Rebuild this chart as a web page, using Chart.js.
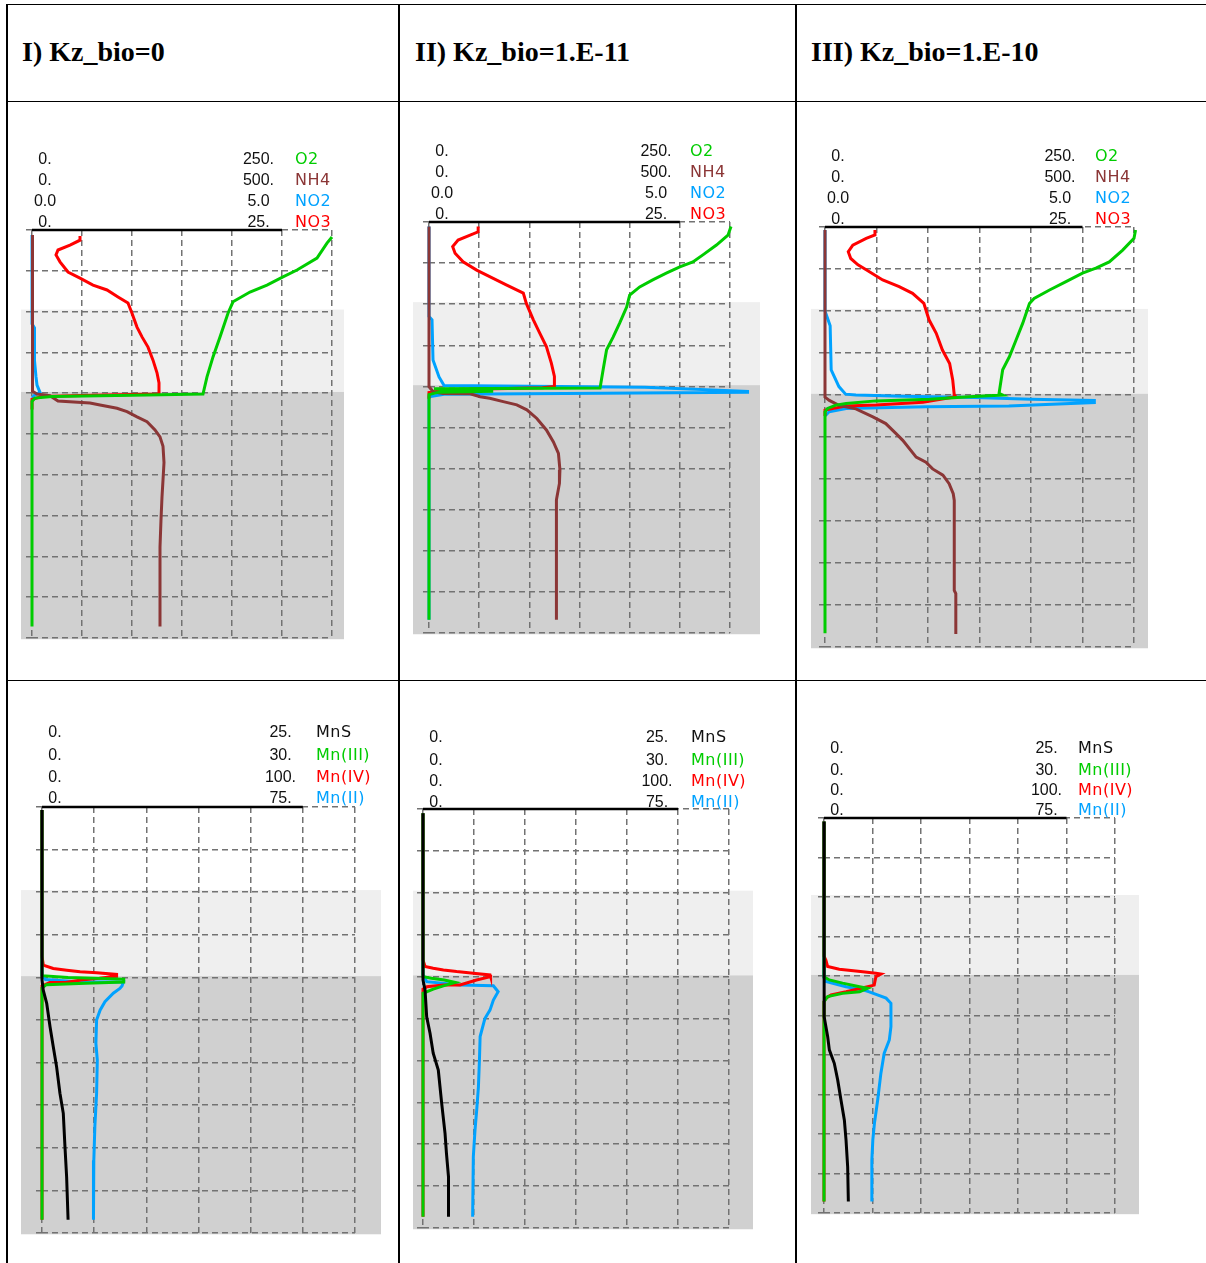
<!DOCTYPE html>
<html>
<head>
<meta charset="utf-8">
<script src="https://cdn.jsdelivr.net/npm/chart.js@4.4.1/dist/chart.umd.min.js"></script>
<style>
  body { margin: 0; background: #fff; }
  #page { position: relative; width: 1206px; height: 1263px; overflow: hidden; }
  .rule { position: absolute; background: #000; z-index: 5; }
  .title { position: absolute; font: bold 28px "Liberation Serif", serif; color: #000; white-space: nowrap; line-height: 32px; }
  .lab { position: absolute; font: 16px "Liberation Sans", Arial, sans-serif; white-space: nowrap; line-height: 20px; height: 20px; }
  .lab.name { font-family: "DejaVu Sans", sans-serif; letter-spacing: 0.5px; }
  canvas { position: absolute; }
</style>
</head>
<body>
<div id="page"></div>
<script>
// ---- data ----
const titles = ['I) Kz_bio=0', 'II) Kz_bio=1.E-11', 'III) Kz_bio=1.E-10']

const nSpecies = ['O2', 'NH4', 'NO2', 'NO3']
const nMinLabels = ['0.', '0.', '0.0', '0.']
const nMaxLabels = ['250.', '500.', '5.0', '25.']
const nMax = [250, 500, 5, 25]

const mnSpecies = ['MnS', 'Mn(III)', 'Mn(IV)', 'Mn(II)']
const mnMinLabels = ['0.', '0.', '0.', '0.']
const mnMaxLabels = ['25.', '30.', '100.', '75.']
const mnMax = [25, 30, 100, 75]

// depth in grid units (0 = top, 10 = bottom)
const depthMax = 10
const bblZone = [1.95, 3.97]
const sedZone = [3.97, 10.03]

// profiles: [value, depth]
const o2_I = [[300,0.17],[295,0.32],[285,0.69],[265,0.98],[251,1.15],[235,1.35],[218,1.52],[201,1.76],[196,2.04],[188,2.62],[181,3.11],[175,3.6],[171,4.02],[100,4.05],[20,4.08],[3,4.12],[0,4.2],[0,9.72]]
const nh4_I = [[1,0.12],[1,3.95],[10,4.02],[36,4.06],[52,4.19],[116,4.24],[136,4.29],[170,4.37],[190,4.45],[210,4.58],[230,4.7],[246,4.9],[256,5.07],[262,5.3],[264,5.7],[262,6.13],[260,6.54],[258,7.1],[256,7.77],[256,9.72]]
const no2_I = [[0,0.12],[0,2.3],[0.05,2.4],[0.05,3.2],[0.08,3.6],[0.1,3.8],[0.16,3.98],[0.05,4.05],[0,4.12]]
const no3_I = [[4.8,0.15],[4.8,0.25],[3.8,0.37],[2.6,0.49],[2.4,0.61],[2.8,0.78],[3.6,1.03],[4.8,1.18],[6.1,1.35],[7.5,1.47],[8.6,1.64],[9.6,1.79],[10,2.04],[10.5,2.38],[11,2.62],[11.6,2.87],[12.1,3.19],[12.5,3.5],[12.7,3.75],[12.7,4.02],[6,4.05],[1,4.08],[0,4.15],[0,4.4]]

const o2_II = [[301,0.11],[298,0.32],[286.5,0.56],[273,0.8],[263,0.97],[250,1.09],[237,1.24],[223,1.41],[210,1.58],[200,1.78],[197,2.07],[190,2.46],[183.5,2.8],[177,3.11],[173.5,3.6],[170.5,4.04],[5,4.06],[30,4.1],[64,4.12],[10,4.14],[0,4.2],[0,9.68]]
const nh4_II = [[0,0.11],[0,4.01],[8.6,4.13],[28,4.17],[82,4.18],[102,4.25],[121,4.29],[148,4.37],[175,4.45],[195,4.57],[215,4.78],[234,5.06],[248,5.35],[258,5.63],[261,6.03],[260,6.36],[254,6.76],[254,9.68]]
const no2_II = [[0,0.11],[0,2.3],[0.06,2.38],[0.08,3.36],[0.2,3.77],[0.3,3.98],[4.3,4.02],[6.35,4.12],[6.35,4.14],[2.7,4.17],[0.3,4.19],[0,4.25],[0,9.68]]
const no3_II = [[4.9,0.11],[4.9,0.24],[4.1,0.32],[2.9,0.44],[2.36,0.6],[2.6,0.76],[3.4,0.97],[4.75,1.17],[6.4,1.37],[7.7,1.53],[9.4,1.73],[9.7,1.98],[10.4,2.38],[11.05,2.71],[11.7,3.03],[12.2,3.44],[12.5,3.76],[12.5,4.0],[11.3,4.03],[2,4.08],[0,4.15],[0,4.3]]

const o2_III = [[301.5,0.07],[300,0.27],[289,0.55],[276,0.83],[263,0.98],[250,1.1],[234,1.3],[218,1.5],[203,1.7],[198.5,1.82],[192,2.29],[185.5,2.69],[179,3.09],[172.5,3.4],[169,3.96],[172.5,4.0],[140,4.04],[101.5,4.1],[49.5,4.14],[20.5,4.2],[10.5,4.24],[2.5,4.32],[0,4.4],[0,9.67]]
const nh4_III = [[0,0.07],[0,4.05],[8.4,4.13],[28,4.25],[60,4.33],[93,4.52],[118,4.68],[138,4.92],[151,5.08],[177,5.48],[196,5.6],[209,5.76],[229,5.91],[241,6.11],[249,6.35],[251,6.51],[251,8.65],[254,8.73],[254,9.69]]
const no2_III = [[0,0.07],[0,2.0],[0.1,2.35],[0.12,3.4],[0.27,3.8],[0.4,3.98],[0.6,4.0],[1.5,4.03],[2.9,4.06],[4.0,4.1],[5.23,4.13],[5.23,4.18],[3.57,4.26],[1.96,4.28],[0.41,4.32],[0.08,4.4],[0,4.5]]
const no3_III = [[4.85,0.07],[4.85,0.19],[4.0,0.27],[2.7,0.43],[2.26,0.59],[2.5,0.75],[3.2,0.9],[4.0,1.02],[5.6,1.26],[7.2,1.42],[8.5,1.58],[9.6,1.82],[10.1,2.21],[10.8,2.53],[11.4,2.93],[12.1,3.25],[12.4,3.64],[12.55,4.0],[12.7,4.04],[9.5,4.17],[4.95,4.24],[2.0,4.26],[0,4.36],[0,4.5]]

const mns_I = [[0,0.07],[0,4.06],[0.12,4.3],[0.45,4.61],[0.77,5.16],[1.08,5.63],[1.4,6.1],[1.72,6.72],[2.04,7.19],[2.2,7.97],[2.36,8.68],[2.5,9.69]]
const mn3_I = [[0,0.07],[0,3.96],[3,4.0],[9.4,4.04],[9.4,4.11],[5,4.14],[0.5,4.17],[0,4.25],[0,9.69]]
const mn4_I = [[0,0.07],[0,3.5],[0.5,3.71],[4.3,3.79],[9.5,3.83],[14.6,3.87],[21,3.89],[28.6,3.93],[28.6,3.97],[22,4.02],[15,4.06],[9,4.12],[3,4.12],[0,4.2],[0,9.69]]
const mn2_I = [[0,0.07],[0,3.95],[1,4.05],[10,4.1],[23.4,4.11],[23,4.2],[22.4,4.26],[20.5,4.37],[18.1,4.57],[16.7,4.77],[15.7,5.0],[15.5,5.55],[15.9,5.94],[15.7,6.72],[15.2,7.5],[14.9,8.29],[14.8,9.69]]

const mns_II = [[0,0.1],[0,4.08],[0.2,4.32],[0.36,4.96],[0.69,5.35],[1.0,5.83],[1.5,6.23],[1.83,7.02],[2.16,7.74],[2.3,8.22],[2.5,8.78],[2.5,9.73]]
const mn3_II = [[0,0.1],[0,4.0],[1,4.04],[2.5,4.08],[3.8,4.14],[2.4,4.22],[1.2,4.3],[0,4.4],[0,9.73]]
const mn4_II = [[0,0.1],[0,3.6],[0.8,3.76],[4,3.8],[8,3.84],[13.2,3.88],[19.7,3.92],[26.3,3.96],[26.5,4.0],[21,4.08],[14.5,4.2],[8,4.2],[1.5,4.24],[0,4.3],[0,9.73]]
const mn2_II = [[0,0.1],[0,3.95],[1.1,4.12],[10.9,4.2],[20.7,4.22],[22.1,4.36],[20.7,4.56],[19.7,4.8],[18.2,5.0],[16.8,5.43],[16.6,5.99],[16.3,6.63],[15.8,7.18],[15.3,7.66],[14.8,8.3],[14.6,9.73]]

const mns_III = [[0,0.09],[0,4.69],[0.03,5.03],[0.38,5.54],[0.55,5.87],[1.06,6.21],[1.41,6.63],[1.75,7.14],[2.1,7.65],[2.27,8.15],[2.44,8.83],[2.51,9.71]]
const mn3_III = [[0,0.09],[0,4.02],[0.66,4.1],[2.3,4.18],[4.4,4.27],[5.4,4.31],[4.4,4.4],[2.3,4.44],[0.45,4.52],[0,4.65],[0,9.71]]
const mn4_III = [[0,0.09],[0,3.5],[0.8,3.6],[1.5,3.76],[6.3,3.83],[16,3.89],[21.4,3.93],[23.5,3.95],[21.4,4.02],[20.7,4.23],[15.3,4.31],[9.1,4.4],[2.9,4.48],[0.8,4.56],[0,4.65],[0,9.71]]
const mn2_III = [[0,0.09],[0,4.05],[0.6,4.14],[6.8,4.27],[12,4.35],[14,4.4],[19.2,4.56],[20.7,4.69],[20.7,5.28],[20.2,5.62],[18.6,5.96],[17.6,6.46],[16.6,7.14],[15.6,7.73],[15.1,8.15],[14.8,8.66],[14.8,9.71]]

// ---- styles ----
const nColors = ['#00cc00', '#8b3636', '#00a2ff', '#ff0000']
const mnColors = ['#000000', '#00cc00', '#ff0000', '#00a2ff']
const nOrder = [0, 1, 3, 2]   // lower = drawn on top
const mnOrder = [0, 1, 2, 3]

// panel geometry: cell [left, top, w, h], plot [L, T, R, B], bg [x0, x1], label anchors
const panels = [
  { cell: [9, 102, 389, 577], plot: [32, 230, 332, 638], bg: [21, 344], valX: 258.5, nameX: 295, rows: [-71, -50, -29, -8],
    names: nSpecies, mins: nMinLabels, maxLabels: nMaxLabels, max: nMax, colors: nColors, order: nOrder, series: [o2_I, nh4_I, no2_I, no3_I] },
  { cell: [401, 102, 394, 577], plot: [429, 222, 730, 633], bg: [413, 760], valX: 656, nameX: 690, rows: [-71, -50, -29, -8],
    names: nSpecies, mins: nMinLabels, maxLabels: nMaxLabels, max: nMax, colors: nColors, order: nOrder, series: [o2_II, nh4_II, no2_II, no3_II] },
  { cell: [798, 102, 408, 577], plot: [825, 227, 1134, 647], bg: [811, 1148], valX: 1060, nameX: 1095, rows: [-71, -50, -29, -8],
    names: nSpecies, mins: nMinLabels, maxLabels: nMaxLabels, max: nMax, colors: nColors, order: nOrder, series: [o2_III, nh4_III, no2_III, no3_III] },
  { cell: [9, 682, 389, 581], plot: [42, 807, 355, 1233], bg: [21, 381], valX: 280.5, nameX: 316, rows: [-75, -52, -30, -9],
    names: mnSpecies, mins: mnMinLabels, maxLabels: mnMaxLabels, max: mnMax, colors: mnColors, order: mnOrder, series: [mns_I, mn3_I, mn4_I, mn2_I] },
  { cell: [401, 682, 394, 581], plot: [423, 809, 729, 1228], bg: [413, 753], valX: 657, nameX: 691, rows: [-72, -49, -28, -7],
    names: mnSpecies, mins: mnMinLabels, maxLabels: mnMaxLabels, max: mnMax, colors: mnColors, order: mnOrder, series: [mns_II, mn3_II, mn4_II, mn2_II] },
  { cell: [798, 682, 408, 581], plot: [824, 818, 1115, 1213], bg: [811, 1139], valX: 1046.5, nameX: 1078, rows: [-70, -48, -28, -8],
    names: mnSpecies, mins: mnMinLabels, maxLabels: mnMaxLabels, max: mnMax, colors: mnColors, order: mnOrder, series: [mns_III, mn3_III, mn4_III, mn2_III] }
]

const page = document.getElementById('page')

function rule(x, y, w, h) {
  const d = document.createElement('div')
  d.className = 'rule'
  d.style.cssText = `left:${x}px;top:${y}px;width:${w}px;height:${h}px`
  page.appendChild(d)
}
rule(6, 4, 1200, 1)
rule(6, 4, 2, 1259)
rule(398, 4, 2, 1259)
rule(795, 4, 2, 1259)
rule(6, 101, 1200, 1)
rule(6, 680, 1200, 1)

titles.forEach((t, i) => {
  const d = document.createElement('div')
  d.className = 'title'
  d.textContent = t
  d.style.left = [22, 415, 811][i] + 'px'
  d.style.top = '36px'
  page.appendChild(d)
})

function label(text, x, cy, align, color, cls) {
  const d = document.createElement('div')
  d.className = cls ? 'lab ' + cls : 'lab'
  d.textContent = text
  d.style.color = color
  d.style.top = (cy - 10) + 'px'
  if (align === 'center') {
    d.style.left = (x - 50) + 'px'
    d.style.width = '100px'
    d.style.textAlign = 'center'
  } else {
    d.style.left = x + 'px'
  }
  page.appendChild(d)
}

const zonePlugin = {
  id: 'zones',
  beforeDraw(chart, args, opts) {
    const { ctx } = chart
    const y = chart.scales.y
    const cell = opts.cell
    const x0 = opts.bg[0] - cell[0]
    const x1 = opts.bg[1] - cell[0]
    ctx.save()
    ctx.fillStyle = '#efefef'
    ctx.fillRect(x0, y.getPixelForValue(bblZone[0]), x1 - x0, y.getPixelForValue(bblZone[1]) - y.getPixelForValue(bblZone[0]))
    ctx.fillStyle = '#d0d0d0'
    ctx.fillRect(x0, y.getPixelForValue(sedZone[0]), x1 - x0, y.getPixelForValue(sedZone[1]) - y.getPixelForValue(sedZone[0]))
    ctx.restore()
  },
  afterDraw(chart) {
    const { ctx } = chart
    const x = chart.scales.x
    const yTop = chart.scales.y.getPixelForValue(0)
    ctx.save()
    ctx.strokeStyle = '#000'
    ctx.lineWidth = 2.5
    ctx.beginPath()
    ctx.moveTo(x.getPixelForValue(0), yTop)
    ctx.lineTo(x.getPixelForValue(5), yTop)
    ctx.stroke()
    ctx.restore()
  }
}

panels.forEach(p => {
  const [cx, cy, cw, ch] = p.cell
  const [L, T, R, B] = p.plot
  const canvas = document.createElement('canvas')
  canvas.width = cw
  canvas.height = ch
  canvas.style.left = cx + 'px'
  canvas.style.top = cy + 'px'
  page.appendChild(canvas)

  const scales = {
    x: {
      type: 'linear', position: 'bottom', min: 0, max: 6,
      afterFit: s => { s.height = 0 },
      ticks: { display: false, stepSize: 1 },
      grid: { color: '#727272', lineWidth: 1.5, drawTicks: false },
      border: { display: false, dash: [6, 4] }
    },
    y: {
      type: 'linear', position: 'left', reverse: true, min: 0, max: depthMax,
      afterFit: s => { s.width = 0 },
      ticks: { display: false, stepSize: 1 },
      grid: { color: '#727272', lineWidth: 1.5, drawTicks: true, tickLength: 6, tickBorderDash: [6, 4] },
      border: { display: false, dash: [6, 4] }
    }
  }
  p.max.forEach((m, i) => {
    scales['x' + i] = { type: 'linear', display: false, min: 0, max: m * 6 / 5 }
  })

  const datasets = p.series.map((s, i) => ({
    label: p.names[i],
    data: s.map(([v, d]) => ({ x: v, y: d })),
    xAxisID: 'x' + i,
    yAxisID: 'y',
    borderColor: p.colors[i],
    borderWidth: 3,
    pointRadius: 0,
    showLine: true,
    fill: false,
    tension: 0,
    clip: false,
    order: p.order[i]
  }))

  new Chart(canvas.getContext('2d'), {
    type: 'scatter',
    data: { datasets },
    options: {
      responsive: false,
      animation: false,
      events: [],
      layout: { padding: { left: L - cx, top: T - cy, right: cx + cw - R, bottom: cy + ch - B } },
      scales,
      plugins: {
        legend: { display: false },
        tooltip: { enabled: false },
        zones: { cell: p.cell, bg: p.bg }
      }
    },
    plugins: [zonePlugin]
  })

  p.names.forEach((n, i) => {
    const yc = T + p.rows[i]
    label(p.mins[i], L + 13, yc, 'center', '#111')
    label(p.maxLabels[i], p.valX, yc, 'center', '#111')
    label(n, p.nameX, yc, 'left', p.colors[i] === '#000000' ? '#111' : p.colors[i], 'name')
  })
})
</script>
</body>
</html>
